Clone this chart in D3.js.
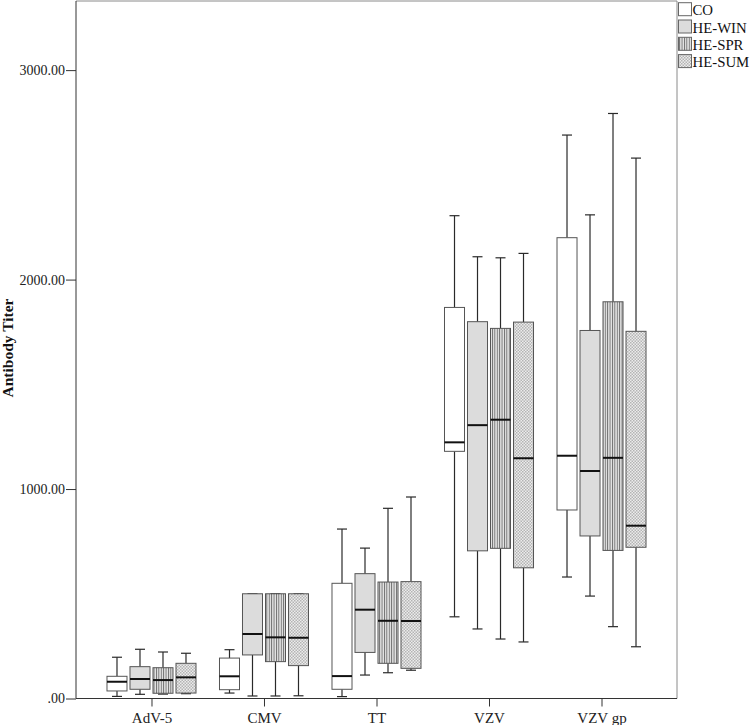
<!DOCTYPE html>
<html><head><meta charset="utf-8">
<script src="https://cdn.jsdelivr.net/npm/d3@7"></script>
<style>body{margin:0;background:#fff}svg{display:block}</style>
</head><body>
<svg id="c" width="750" height="725"></svg>
<script>
const categories = ["AdV-5", "CMV", "TT", "VZV", "VZV gp"];
const seriesNames = ["CO", "HE-WIN", "HE-SPR", "HE-SUM"];
// each entry: [min, q1, median, q3, max]
const CO = [[10,36,80,106,197],[26,42,106,193,233],[9,44,107,550,809],[390,1180,1223,1867,2305],[580,900,1159,2200,2690]];
const HE_WIN = [[20,44,93,152,235],[12,208,308,500,500],[112,220,424,596,718],[332,705,1305,1799,2109],[489,776,1086,1757,2309]];
const HE_SPR = [[21,25,88,147,222],[12,176,292,500,500],[123,168,371,556,908],[284,717,1331,1767,2104],[343,707,1149,1894,2793]];
const HE_SUM = [[23,26,101,168,216],[13,157,290,500,500],[135,144,370,558,962],[270,624,1147,1797,2125],[247,722,825,1753,2580]];
const yTicks = [0, 1000, 2000, 3000];
const yMax = 3330;
const yLabel = "Antibody Titer";

const seriesData = [CO, HE_WIN, HE_SPR, HE_SUM];
const fills = ["#ffffff", "#dcdcdc", "url(#pSpr)", "url(#pSum)"];

const svg = d3.select("#c");
const L = 76, R = 677, T = 1, B = 698.5;
const serif = "'Liberation Serif','Times New Roman',serif";

const defs = svg.append("defs");
const p1 = defs.append("pattern").attr("id","pSpr").attr("patternUnits","userSpaceOnUse").attr("width",2.4).attr("height",4);
p1.append("rect").attr("width",2.4).attr("height",4).attr("fill","#e4e4e4");
p1.append("rect").attr("x",0).attr("width",0.9).attr("height",4).attr("fill","#6a6a6a");
const p2 = defs.append("pattern").attr("id","pSum").attr("patternUnits","userSpaceOnUse").attr("width",3).attr("height",3);
p2.append("rect").attr("width",3).attr("height",3).attr("fill","#ececec");
p2.append("rect").attr("x",0).attr("y",0).attr("width",1.5).attr("height",1.5).attr("fill","#b4b4b4");
p2.append("rect").attr("x",1.5).attr("y",1.5).attr("width",1.5).attr("height",1.5).attr("fill","#b4b4b4");

const x = d3.scalePoint().domain(categories).range([L, R]).padding(0.671);
const xs = d3.scaleBand().domain(seriesNames).range([-46, 46]).paddingInner(0.13).paddingOuter(0.065);
const y = d3.scaleLinear().domain([0, yMax]).range([B, T]);

// frame (top/right)
svg.append("line").attr("x1",L).attr("x2",R).attr("y1",T).attr("y2",T).attr("stroke","#8a8a8a");
svg.append("line").attr("x1",R).attr("x2",R).attr("y1",T).attr("y2",B).attr("stroke","#8a8a8a");

// boxes
seriesData.forEach((data, si) => {
  const g = svg.append("g");
  data.forEach((d, ci) => {
    const bw = xs.bandwidth();
    const cx = x(categories[ci]) + xs(seriesNames[si]) + bw / 2;
    const [mn, q1, md, q3, mx] = d;
    const wc = "#2a2a2a";
    g.append("line").attr("x1",cx).attr("x2",cx).attr("y1",y(q3)).attr("y2",y(mx)).attr("stroke",wc).attr("stroke-width",1.2);
    g.append("line").attr("x1",cx).attr("x2",cx).attr("y1",y(q1)).attr("y2",y(mn)).attr("stroke",wc).attr("stroke-width",1.2);
    g.append("line").attr("x1",cx-bw/4).attr("x2",cx+bw/4).attr("y1",y(mx)).attr("y2",y(mx)).attr("stroke",wc).attr("stroke-width",1.2);
    g.append("line").attr("x1",cx-bw/4).attr("x2",cx+bw/4).attr("y1",y(mn)).attr("y2",y(mn)).attr("stroke",wc).attr("stroke-width",1.2);
    g.append("rect").attr("x",cx-bw/2).attr("y",y(q3)).attr("width",bw).attr("height",y(q1)-y(q3))
      .attr("fill",fills[si]).attr("stroke","#555").attr("stroke-width",1);
    g.append("line").attr("x1",cx-bw/2).attr("x2",cx+bw/2).attr("y1",y(md)).attr("y2",y(md)).attr("stroke","#111").attr("stroke-width",2);
  });
});

// axes
const yAxis = d3.axisLeft(y).tickValues(yTicks).tickSize(10).tickPadding(1)
  .tickFormat(d => d === 0 ? ".00" : d3.format(".2f")(d));
const gy = svg.append("g").attr("transform",`translate(${L},0)`).call(yAxis);
gy.select(".domain").attr("d",`M0,${T}V${B}`).attr("stroke","#333");
gy.selectAll(".tick line").attr("stroke","#333");
gy.selectAll("text").attr("font-family",serif).attr("font-size",14).attr("fill","#222");

const xAxis = d3.axisBottom(x).tickSize(8).tickPadding(6);
const gx = svg.append("g").attr("transform",`translate(0,${B})`).call(xAxis);
gx.select(".domain").attr("d",`M${L},0H${R}`).attr("stroke","#333");
gx.selectAll(".tick line").attr("stroke","#333");
gx.selectAll("text").attr("font-family",serif).attr("font-size",15).attr("fill","#222");

svg.append("text").attr("transform","translate(13,348) rotate(-90)").attr("text-anchor","middle")
  .attr("font-family",serif).attr("font-weight","bold").attr("font-size",15.5).attr("fill","#111").text(yLabel);

// legend
const lg = svg.append("g");
seriesNames.forEach((s, i) => {
  const yy = 2.7 + i * 17.3;
  lg.append("rect").attr("x",678.5).attr("y",yy).attr("width",13).attr("height",13)
    .attr("fill",fills[i]).attr("stroke","#666").attr("stroke-width",1);
  lg.append("text").attr("x",692.5).attr("y",yy+12.5).attr("font-family",serif).attr("font-size",14.8)
    .attr("fill","#111").text(s);
});
</script>
</body></html>
